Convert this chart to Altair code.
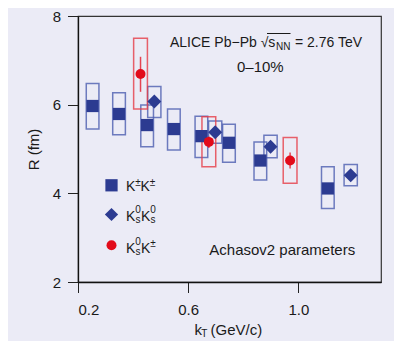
import altair as alt
import pandas as pd

# ---------------- data ----------------
kk_kT = [0.253, 0.349, 0.451, 0.548, 0.648, 0.748, 0.862, 1.107]
kk_R = [5.97, 5.79, 5.54, 5.45, 5.29, 5.14, 4.74, 4.11]
kk_sys_lo = [5.45, 5.32, 5.05, 4.98, 4.81, 4.70, 4.30, 3.66]
kk_sys_hi = [6.48, 6.27, 5.99, 5.90, 5.74, 5.56, 5.16, 4.60]

k0k0_kT = [0.477, 0.698, 0.899, 1.190]
k0k0_R = [6.07, 5.38, 5.05, 4.41]
k0k0_sys_lo = [5.71, 5.13, 4.80, 4.17]
k0k0_sys_hi = [6.41, 5.63, 5.31, 4.65]

k0kc_kT = [0.427, 0.675, 0.970]
k0kc_R = [6.69, 5.16, 4.74]
k0kc_stat_lo = [6.29, 5.02, 4.56]
k0kc_stat_hi = [7.08, 5.28, 4.92]
k0kc_sys_lo = [5.90, 4.60, 4.23]
k0kc_sys_hi = [7.50, 5.73, 5.26]

x_ticks = [0.2, 0.6, 1.0]
y_ticks = [2, 4, 6, 8]

# ---------------- style ----------------
BLUE = "#2c3b91"
BLUE_BOX = "#4c5eb0"
RED = "#e20b1a"
RED_BOX = "#e63c47"
BG = "#ebebf6"
FONT = "Liberation Sans"
TXT = "#1a1a1a"

W, H = 303, 266
XMIN, XMAX = 0.2, 1.3
YMIN, YMAX = 2.0, 8.0


def kx(px):  # plot-relative pixel -> kT
    return XMIN + px * (XMAX - XMIN) / W


def ry(py):  # plot-relative pixel -> R
    return YMAX - py * (YMAX - YMIN) / H


xscale = alt.Scale(domain=[XMIN, XMAX], nice=False, zero=False)
yscale = alt.Scale(domain=[YMIN, YMAX], nice=False, zero=False)

# boxes (systematic)
boxes = pd.DataFrame(
    {
        "kT": kk_kT + k0k0_kT + k0kc_kT,
        "lo": kk_sys_lo + k0k0_sys_lo + k0kc_sys_lo,
        "hi": kk_sys_hi + k0k0_sys_hi + k0kc_sys_hi,
        "half": [0.023] * len(kk_kT) + [0.024] * len(k0k0_kT) + [0.025] * len(k0kc_kT),
        "col": [BLUE_BOX] * (len(kk_kT) + len(k0k0_kT)) + [RED_BOX] * len(k0kc_kT),
    }
)

box_layer = (
    alt.Chart(boxes)
    .transform_calculate(x1="datum.kT - datum.half", x2="datum.kT + datum.half")
    .mark_rect(fillOpacity=0, strokeWidth=1.5, strokeOpacity=0.8)
    .encode(
        x=alt.X("x1:Q", scale=xscale),
        x2="x2:Q",
        y=alt.Y("lo:Q", scale=yscale),
        y2="hi:Q",
        stroke=alt.Stroke("col:N", scale=None),
    )
)

stat = pd.DataFrame({"kT": k0kc_kT, "lo": k0kc_stat_lo, "hi": k0kc_stat_hi})
stat_layer = (
    alt.Chart(stat)
    .mark_rule(color=RED, strokeWidth=1.5, opacity=0.75)
    .encode(x=alt.X("kT:Q", scale=xscale), y=alt.Y("lo:Q", scale=yscale), y2="hi:Q")
)

# markers: data + legend symbols
leg_x = kx(33.5)
markers = pd.DataFrame(
    {
        "kT": kk_kT + k0k0_kT + k0kc_kT + [leg_x, leg_x, leg_x],
        "R": kk_R + k0k0_R + k0kc_R + [ry(169.3), ry(198.5), ry(229.3)],
        "shape": ["square"] * len(kk_kT) + ["diamond"] * len(k0k0_kT) + ["circle"] * len(k0kc_kT)
        + ["square", "diamond", "circle"],
        "col": [BLUE] * (len(kk_kT) + len(k0k0_kT)) + [RED] * len(k0kc_kT) + [BLUE, BLUE, RED],
        "sz": [150] * len(kk_kT) + [195] * len(k0k0_kT) + [100] * len(k0kc_kT) + [150, 175, 100],
    }
)
marker_layer = (
    alt.Chart(markers)
    .mark_point(filled=True, opacity=1, strokeWidth=0)
    .encode(
        x=alt.X("kT:Q", scale=xscale),
        y=alt.Y("R:Q", scale=yscale),
        shape=alt.Shape("shape:N", scale=None),
        fill=alt.Fill("col:N", scale=None),
        size=alt.Size("sz:Q", scale=None),
    )
)

# text pieces (plot-relative pixel positions -> data coords)
pieces = [
    # text, px, py (baseline), font size
    ("ALICE Pb\u2212Pb \u221as", 92, 30.7, 14),
    ("NN", 198, 34.0, 10),
    ("= 2.76 TeV", 217, 30.7, 14),
    ("0\u201310%", 159, 55.7, 15),
    ("Achasov2 parameters", 131.3, 239, 15),
    # legend row 1
    ("K", 48, 175.3, 14), ("\u00b1", 57.3, 169.5, 10), ("K", 62.5, 175.3, 14), ("\u00b1", 71.8, 169.5, 10),
    # legend row 2
    ("K", 48, 205, 14), ("0", 57.3, 197, 10), ("s", 57.5, 207, 10),
    ("K", 63.0, 205, 14), ("0", 72.3, 197, 10), ("s", 72.5, 207, 10),
    # legend row 3
    ("K", 48, 236.5, 14), ("0", 57.3, 228.5, 10), ("s", 57.5, 238.5, 10),
    ("K", 63.0, 236.5, 14), ("\u00b1", 72.3, 231, 10),
    # x axis title
    ("k", 116.5, 319, 15), ("T", 123.2, 321, 10), ("(GeV/c)", 132.5, 319, 15),
]
ann = pd.DataFrame(
    {
        "t": [p[0] for p in pieces],
        "x": [kx(p[1]) for p in pieces],
        "y": [ry(p[2]) for p in pieces],
        "fs": [p[3] for p in pieces],
    }
)
text_layer = (
    alt.Chart(ann)
    .mark_text(align="left", baseline="alphabetic", font=FONT, color=TXT)
    .encode(
        x=alt.X("x:Q", scale=xscale),
        y=alt.Y("y:Q", scale=yscale),
        text="t:N",
        size=alt.Size("fs:Q", scale=None),
    )
)

# overline of sqrt(s_NN)
ovl = pd.DataFrame({"x1": [kx(189)], "x2": [kx(212.5)], "y": [ry(17.5)]})
ovl_layer = (
    alt.Chart(ovl)
    .mark_rule(color=TXT, strokeWidth=1)
    .encode(x=alt.X("x1:Q", scale=xscale), x2="x2:Q", y=alt.Y("y:Q", scale=yscale))
)

base_x = alt.X(
    "kT:Q",
    scale=xscale,
    axis=alt.Axis(values=x_ticks, format=".1f", title=None, labelPadding=10),
)
base_y = alt.Y(
    "R:Q",
    scale=yscale,
    axis=alt.Axis(values=y_ticks, format="d", title="R (fm)", labelPadding=7, titlePadding=11),
)
axis_layer = alt.Chart(pd.DataFrame({"kT": [0.5], "R": [5.0]})).mark_point(opacity=0).encode(x=base_x, y=base_y)

chart = (
    alt.layer(axis_layer, box_layer, stat_layer, marker_layer, text_layer, ovl_layer)
    .properties(
        width=W,
        height=H,
        background=BG,
        padding={"left": 70, "top": 8, "right": 13, "bottom": 59},
        autosize=alt.AutoSizeParams(type="none"),
    )
    .configure_view(stroke="#333333", strokeWidth=1.2)
    .configure_axis(
        grid=False,
        labelFont=FONT,
        labelFontSize=15,
        labelColor=TXT,
        titleFont=FONT,
        titleFontSize=15,
        titleFontWeight="normal",
        titleColor=TXT,
        tickColor="#222222",
        tickSize=10.5,
        tickWidth=1,
        domainColor="#111111",
        domainWidth=1.3,
    )
)

chart.save("out.html", embed_options={"renderer": "svg", "actions": False})
